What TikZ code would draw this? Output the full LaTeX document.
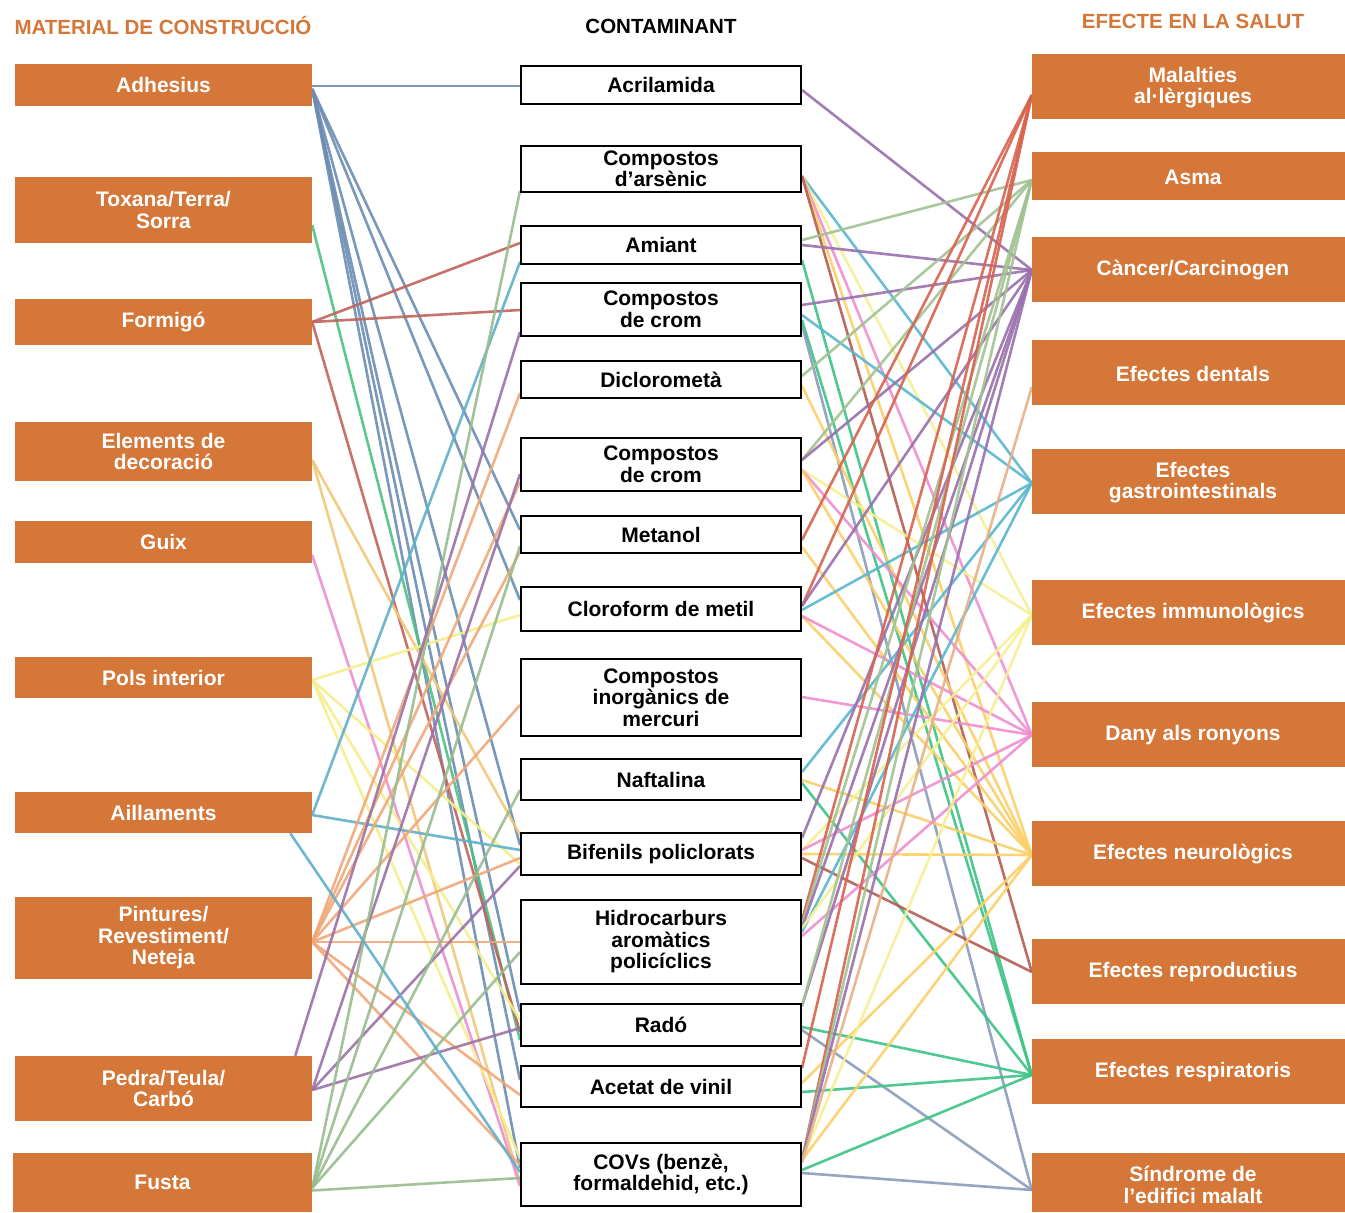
\documentclass[tikz,border=0pt]{standalone}
\usepackage{fontspec}
\setmainfont{Liberation Sans}
\usetikzlibrary{calc}
\definecolor{orng}{RGB}{213,119,56}
% material colours
\definecolor{cadh}{RGB}{108,141,178}
\definecolor{ctox}{RGB}{76,194,130}
\definecolor{cfor}{RGB}{192,100,92}
\definecolor{cele}{RGB}{240,200,120}
\definecolor{cgui}{RGB}{234,143,208}
\definecolor{cpol}{RGB}{245,239,140}
\definecolor{cail}{RGB}{95,176,201}
\definecolor{cpin}{RGB}{240,168,120}
\definecolor{cped}{RGB}{155,114,168}
\definecolor{cfus}{RGB}{152,188,142}
% effect colours
\definecolor{cmal}{RGB}{216,98,78}
\definecolor{casm}{RGB}{162,194,146}
\definecolor{ccan}{RGB}{154,112,174}
\definecolor{cden}{RGB}{232,176,136}
\definecolor{cgas}{RGB}{90,184,208}
\definecolor{cimm}{RGB}{244,240,148}
\definecolor{cron}{RGB}{240,142,208}
\definecolor{cneu}{RGB}{250,208,104}
\definecolor{crep}{RGB}{180,94,82}
\definecolor{cres}{RGB}{62,196,134}
\definecolor{csin}{RGB}{138,156,188}
\pgfdeclarelayer{back}
\pgfdeclarelayer{bg}
\pgfsetlayers{back,bg,main}
\tikzset{
 boxfont/.style={font=\bfseries\fontsize{21}{21.5}\selectfont},
 lbox/.style={boxfont, fill=orng, text=white, align=center, inner sep=0pt, minimum width=297pt},
 mbox/.style={boxfont, fill=white, draw=black, line width=2.4pt, text=black, align=center, inner sep=0pt, minimum width=279.6pt},
 rbox/.style={boxfont, fill=orng, text=white, align=center, inner sep=0pt, minimum width=313pt},
 rtxt/.style={boxfont, text=white, align=center, inner sep=0pt},
 ttl/.style={font=\bfseries\fontsize{20.5}{22}\selectfont, inner sep=0pt},
 ln/.style={line width=2.6pt, opacity=0.9},
}
\begin{document}
\begin{tikzpicture}[x=1pt,y=-1pt]
\begin{pgfonlayer}{back}
\fill[white] (0,0) rectangle (1345,1213);
\end{pgfonlayer}
\useasboundingbox (0,0) rectangle (1345,1213);
% titles
\node[ttl, text=orng] (t1) at (163,26) {MATERIAL DE CONSTRUCCIÓ};
\node[ttl, text=black] (t2) at (661,26) {CONTAMINANT};
\node[ttl, text=orng] (t3) at (1193,21) {EFECTE EN LA SALUT};
% left boxes
\node[lbox, minimum height=42pt] (adh) at (163.5,85) {Adhesius};
\node[lbox, minimum height=66pt] (tox) at (163.5,210) {Toxana/Terra/\\Sorra};
\node[lbox, minimum height=46pt] (for) at (163.5,322) {Formigó};
\node[lbox, minimum height=59pt] (ele) at (163.5,451.5) {Elements de\\decoració};
\node[lbox, minimum height=42pt] (gui) at (163.5,542) {Guix};
\node[lbox, minimum height=41pt] (pol) at (163.5,677.5) {Pols interior};
\node[lbox, minimum height=41pt] (ail) at (163.5,812.5) {Aillaments};
\node[lbox, minimum height=82pt] (pin) at (163.5,938) {Pintures/\\Revestiment/\\Neteja};
\node[lbox, minimum height=65pt] (ped) at (163.5,1088.5) {Pedra/Teula/\\Carbó};
\node[lbox, minimum height=59pt, minimum width=299pt] (fus) at (162.5,1182.5) {Fusta};
% middle boxes
\node[mbox, minimum height=37.6pt] (acr) at (661,85) {Acrilamida};
\node[mbox, minimum height=45.6pt] (ars) at (661,169) {Compostos\\d’arsènic};
\node[mbox, minimum height=37.6pt] (ami) at (661,245) {Amiant};
\node[mbox, minimum height=52.6pt] (cr1) at (661,309.5) {Compostos\\de crom};
\node[mbox, minimum height=36.6pt] (dic) at (661,379.5) {Diclorometà};
\node[mbox, minimum height=52.6pt] (cr2) at (661,464.5) {Compostos\\de crom};
\node[mbox, minimum height=36.6pt] (met) at (661,534.5) {Metanol};
\node[mbox, minimum height=43.6pt] (clo) at (661,609) {Cloroform de metil};
\node[mbox, minimum height=76.6pt] (mer) at (661,697.5) {Compostos\\inorgànics de\\mercuri};
\node[mbox, minimum height=40.6pt] (naf) at (661,779.5) {Naftalina};
\node[mbox, minimum height=41.6pt] (bif) at (661,854) {Bifenils policlorats};
\node[mbox, minimum height=83.6pt] (hid) at (661,942) {Hidrocarburs\\aromàtics\\policíclics};
\node[mbox, minimum height=41.6pt] (rad) at (661,1025) {Radó};
\node[mbox, minimum height=40.6pt] (ace) at (661,1086.5) {Acetat de vinil};
\node[mbox, minimum height=62.6pt] (cov) at (661,1174.5) {COVs (benzè,\\formaldehid, etc.)};
% right boxes
\node[rbox, minimum height=65pt] (mal) at (1188.5,86.5) {};
\node[rbox, minimum height=48pt] (asm) at (1188.5,176) {};
\node[rbox, minimum height=65pt] (can) at (1188.5,269.5) {};
\node[rbox, minimum height=65pt] (den) at (1188.5,372.5) {};
\node[rbox, minimum height=65pt] (gas) at (1188.5,481.5) {};
\node[rbox, minimum height=65pt] (imm) at (1188.5,612.5) {};
\node[rbox, minimum height=65pt] (ron) at (1188.5,734.5) {};
\node[rbox, minimum height=65pt] (neu) at (1188.5,853.5) {};
\node[rbox, minimum height=65pt] (rep) at (1188.5,971.5) {};
\node[rbox, minimum height=65pt] (res) at (1188.5,1071.5) {};
\node[rbox, minimum height=59pt] (sin) at (1188.5,1182.5) {};
\node[rtxt] (mal-t) at (1193,87.5) {Malalties\\al·lèrgiques};
\node[rtxt] (asm-t) at (1193,177) {Asma};
\node[rtxt] (can-t) at (1193,270.5) {Càncer/Carcinogen};
\node[rtxt] (den-t) at (1193,373.5) {Efectes dentals};
\node[rtxt] (gas-t) at (1193,482.5) {Efectes\\gastrointestinals};
\node[rtxt] (imm-t) at (1193,613.5) {Efectes immunològics};
\node[rtxt] (ron-t) at (1193,735.5) {Dany als ronyons};
\node[rtxt] (neu-t) at (1193,854.5) {Efectes neurològics};
\node[rtxt] (rep-t) at (1193,972.5) {Efectes reproductius};
\node[rtxt] (res-t) at (1193,1072.5) {Efectes respiratoris};
\node[rtxt] (sin-t) at (1193,1185) {Síndrome de\\l’edifici malalt};
% ports on effect boxes
\foreach \n/\s in {mal/-8.5, asm/-4, can/-0.5, den/-14.5, gas/-1.5, imm/-2.5, ron/-0.5, neu/-1.5, rep/-0.5, res/-3.5, sin/-7.5}
  \coordinate (\n-p) at ([yshift=\s pt]\n.west);
\coordinate (ail-b) at ([xshift=-22pt]ail.south east);
\coordinate (ped-t) at ([xshift=-17pt]ped.north east);
\begin{pgfonlayer}{bg}
% material -> contaminant
\foreach \s/\a/\d/\b/\c in {
 adh/-1/acr/-1/cadh, adh/-4/met/4.5/cadh, adh/-4/clo/9/cadh, adh/-4/bif/9/cadh,
 adh/-4/rad/13/cadh, adh/-4/ace/6.5/cadh, adh/-4/cov/6.5/cadh,
 tox/-15/rad/-15/ctox,
 for/0/ami/2/cfor, for/0/cr1/-0.5/cfor, for/0/rad/-7/cfor,
 ele/-8.5/bif/19/cele, ele/-8.5/cov/-7.5/cele,
 gui/-13/cov/-11.5/cgui,
 pol/-2.5/clo/-6/cpol, pol/-2.5/bif/-10/cpol, pol/-2.5/rad/5/cpol, pol/-2.5/cov/16.5/cpol,
 ail/-2.5/ami/-17/cail, ail/-2.5/bif/4/cail,
 pin/-4/dic/-13.5/cpin, pin/-4/cr2/-17.5/cpin, pin/-4/met/-17.5/cpin, pin/-4/mer/-7.5/cpin,
 pin/-4/bif/-4/cpin, pin/-4/hid/0/cpin, pin/-4/ace/-8.5/cpin, pin/-4/cov/9.5/cpin,
 ped/-1.5/cr2/-9.5/cped, ped/-1.5/bif/-12/cped, ped/-1.5/rad/-3/cped,
 fus/-5.5/ars/-22/cfus, fus/-5.5/met/-11.5/cfus, fus/-5.5/naf/-10.5/cfus,
 fus/-5.5/hid/-10/cfus, fus/-8/cov/-3.5/cfus}
 { \draw[ln, color=\c] ([yshift=\a pt]\s.east) -- ([yshift=\b pt]\d.west); }
\draw[ln, color=cail] (ail-b) -- ([yshift=2.5pt]cov.west);
\draw[ln, color=cped] (ped-t) -- ([yshift=-22.5pt]cr1.west);
% contaminant -> effect
\foreach \s/\a/\e in {
 acr/-5/can,
 ars/-7/gas, ars/-7/imm, ars/-7/ron, ars/-7/neu, ars/-7/rep,
 ami/5/asm, ami/0/can, ami/-15/res,
 cr1/4.5/can, cr1/-5.5/gas, cr1/-10.5/res, cr1/-15.5/sin,
 dic/3.5/asm, dic/-6.5/neu,
 cr2/4.5/asm, cr2/4.5/can, cr2/-5.5/imm, cr2/-5.5/ron, cr2/-5.5/neu,
 met/-5.5/mal, met/-12.5/neu,
 clo/3/mal, clo/3/can, clo/-1/gas, clo/-7/neu, clo/-7/ron,
 mer/0.5/ron,
 naf/7.5/gas, naf/-0.5/neu, naf/-3.5/res,
 bif/16/can, bif/4/imm, bif/4/ron, bif/0/neu, bif/-4/rep,
 hid/22/mal, hid/18/asm, hid/14/can, hid/10/gas, hid/6/ron, hid/14/imm,
 rad/19/can, rad/19/asm, rad/-2/res, rad/-5/sin,
 ace/18.5/mal, ace/3.5/neu, ace/-5.5/res,
 cov/14.5/mal, cov/14.5/asm, cov/14.5/can, cov/14.5/imm, cov/14.5/neu, cov/12/den,
 cov/4.5/res, cov/1.5/sin}
 { \draw[ln, color=c\e] ([yshift=\a pt]\s.east) -- (\e-p); }
\end{pgfonlayer}
\end{tikzpicture}
\end{document}
